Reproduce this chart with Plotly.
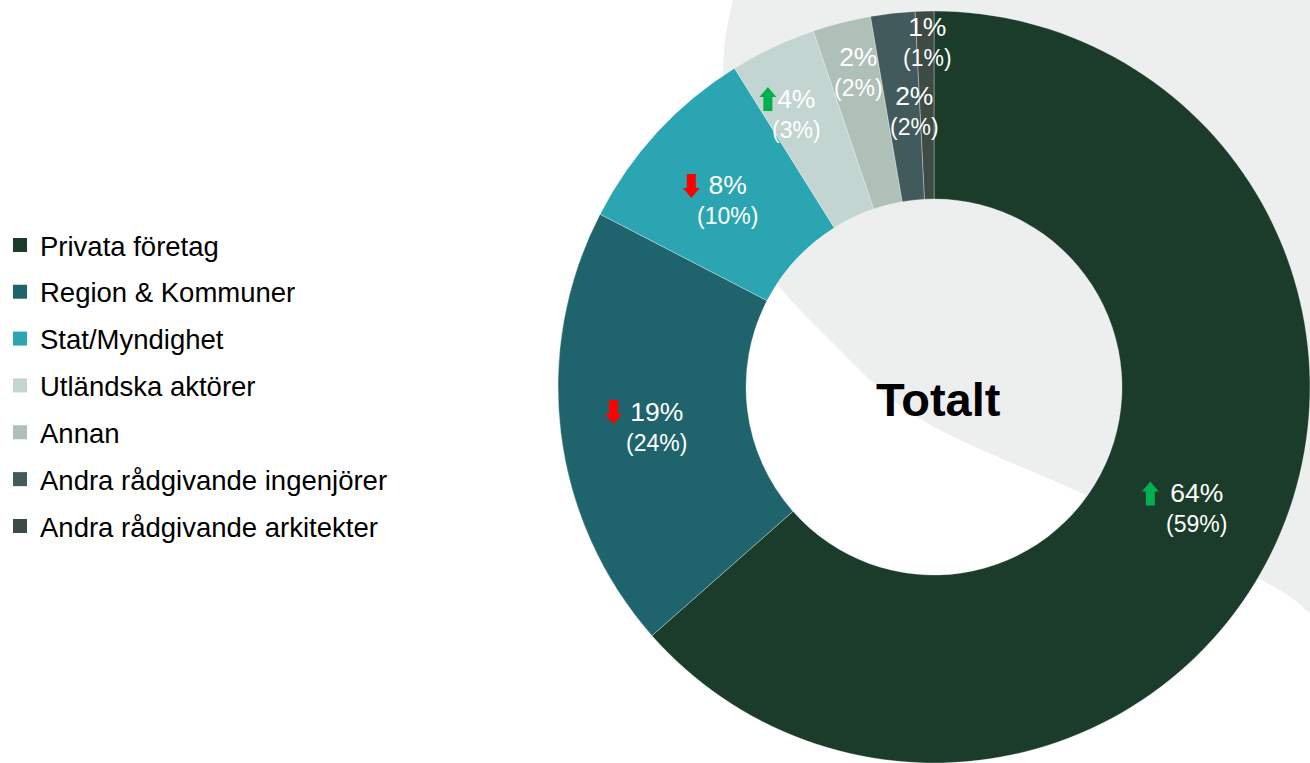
import math
import plotly.graph_objects as go

# ---------------- data ----------------
categories = [
    "Privata företag",
    "Region & Kommuner",
    "Stat/Myndighet",
    "Utländska aktörer",
    "Annan",
    "Andra rådgivande ingenjörer",
    "Andra rådgivande arkitekter",
]
share_now = [63.5, 19.1, 8.5, 3.7, 2.5, 1.9, 0.8]
label_now = ["64%", "19%", "8%", "4%", "2%", "2%", "1%"]
label_prev = ["(59%)", "(24%)", "(10%)", "(3%)", "(2%)", "(2%)", "(1%)"]
trend = ["up", "down", "down", "up", "", "", ""]
center_title = "Totalt"

# ---------------- style ----------------
colors = ["#1B3C2A", "#1F646C", "#2CA5B3", "#C3D5D0", "#AFC0B8", "#435A5C", "#3E4A44"]
BG_GRAY = "#EDEFEE"
FONT = "Liberation Sans, Arial, sans-serif"

W, H = 1310, 763
CX, CY, R = 934, 387, 376    # pie geometry in window pixels
HOLE = 0.5
LABEL_R = [0.769, 0.7465, 0.741, 0.8146, 0.863, 0.736, 0.919]
LABEL_DA = [0.32, -0.97, -0.5, -1.19, 0.68, 2.16, 0.44]   # angular nudges (deg)
ARROW_GAP = [20, 16, 17, 10, 16, 16, 16]
NOW_SIZE, PREV_SIZE = 26.5, 23
LEGEND_SIZE = 27.5


def paper(x, y):
    """window pixel -> paper fraction"""
    return x / W, 1 - y / H


def text_width(s, size):
    w = {"%": 0.889, "(": 0.333, ")": 0.333}
    return sum(w.get(c, 0.556) for c in s) * size


def catmull_path(pts):
    d = "M {:.5f},{:.5f}".format(*paper(*pts[0]))
    for i in range(len(pts) - 1):
        p0 = pts[i - 1] if i > 0 else pts[i]
        p1 = pts[i]
        p2 = pts[i + 1]
        p3 = pts[i + 2] if i + 2 < len(pts) else pts[i + 1]
        c1 = (p1[0] + (p2[0] - p0[0]) / 6, p1[1] + (p2[1] - p0[1]) / 6)
        c2 = (p2[0] - (p3[0] - p1[0]) / 6, p2[1] - (p3[1] - p1[1]) / 6)
        d += " C {:.5f},{:.5f} {:.5f},{:.5f} {:.5f},{:.5f}".format(
            *paper(*c1), *paper(*c2), *paper(*p2))
    return d


def arrow_path(ax, ay, up=True):
    s = -1 if up else 1  # tip direction in pixel y
    hw, sw, hh, half = 8.5, 4.5, 10, 12
    pts = [
        (ax, ay + s * half),
        (ax + hw, ay + s * (half - hh)),
        (ax + sw, ay + s * (half - hh)),
        (ax + sw, ay - s * half),
        (ax - sw, ay - s * half),
        (ax - sw, ay + s * (half - hh)),
        (ax - hw, ay + s * (half - hh)),
    ]
    return "M " + " L ".join("{:.5f},{:.5f}".format(*paper(*p)) for p in pts) + " Z"


fig = go.Figure()

dx0, dy1 = paper(CX - R, CY - R)
dx1, dy0 = paper(CX + R, CY + R)
fig.add_trace(go.Pie(
    labels=categories,
    values=share_now,
    sort=False,
    direction="clockwise",
    rotation=0,
    hole=HOLE,
    textinfo="none",
    marker=dict(colors=colors, line=dict(color="rgba(255,255,255,0.45)", width=0.7)),
    domain=dict(x=[max(0.0, dx0), min(1.0, dx1)], y=[max(0.0, dy0), min(1.0, dy1)]),
    showlegend=False,
    hoverinfo="label+percent",
))

# legend entries (one per category)
for name, col in zip(categories, colors):
    fig.add_trace(go.Scatter(
        x=[None], y=[None], mode="markers", name=name, legendgroup=name,
        marker=dict(symbol="square", size=14, color=col), hoverinfo="skip",
    ))

shapes = []
# big light background shape
bg_pts = [(748, -30), (733, 0), (723, 67), (728, 160), (750, 235), (780, 287),
          (827, 337), (893, 400), (960, 440), (1090, 497), (1265, 582),
          (1310, 613), (1345, 640)]
bg_path = catmull_path(bg_pts)
bg_path += " L {:.5f},{:.5f} L {:.5f},{:.5f} Z".format(*paper(1345, -30), *paper(748, -30))
shapes.append(dict(type="path", path=bg_path, xref="paper", yref="paper",
                   fillcolor=BG_GRAY, line=dict(width=0), layer="below"))

annotations = []
total = sum(share_now)
cum = 0.0
for i, v in enumerate(share_now):
    mid = (cum + v / 2) / total
    cum += v
    th = math.radians(mid * 360 + LABEL_DA[i])
    lx = CX + LABEL_R[i] * R * math.sin(th)
    ly = CY - LABEL_R[i] * R * math.cos(th)
    px, py = paper(lx, ly)
    annotations.append(dict(
        x=px, y=py, xref="paper", yref="paper", showarrow=False,
        xanchor="center", yanchor="middle", align="center",
        text="<span style='font-size:{}px'>{}</span><br>{}".format(NOW_SIZE, label_now[i], label_prev[i]),
        font=dict(family=FONT, size=PREV_SIZE, color="white"),
    ))
    if trend[i]:
        ax = lx - text_width(label_now[i], NOW_SIZE) / 2 - ARROW_GAP[i]
        ay = ly - 14
        shapes.append(dict(type="path", path=arrow_path(ax, ay, trend[i] == "up"),
                           xref="paper", yref="paper", line=dict(width=0),
                           fillcolor="#00B050" if trend[i] == "up" else "#FF0000",
                           layer="above"))

tx, ty = paper(CX + 4, CY + 12)
annotations.append(dict(
    x=tx, y=ty, xref="paper", yref="paper", showarrow=False,
    xanchor="center", yanchor="middle",
    text="<b>{}</b>".format(center_title),
    font=dict(family=FONT, size=47, color="black"),
))

lgx, lgy = paper(0, CY - 1.5)
fig.update_layout(
    width=W, height=H,
    margin=dict(l=0, r=0, t=0, b=0),
    paper_bgcolor="white", plot_bgcolor="rgba(0,0,0,0)",
    xaxis=dict(visible=False), yaxis=dict(visible=False),
    shapes=shapes,
    annotations=annotations,
    legend=dict(
        x=lgx, xanchor="left", y=lgy, yanchor="middle",
        font=dict(family=FONT, size=LEGEND_SIZE, color="black"),
        tracegroupgap=8.1, bgcolor="rgba(0,0,0,0)",
    ),
    font=dict(family=FONT),
)

fig.write_html(
    "out.html",
    config={"displayModeBar": False},
    post_script="document.body.style.margin='0px';document.documentElement.style.overflow='hidden';",
)
